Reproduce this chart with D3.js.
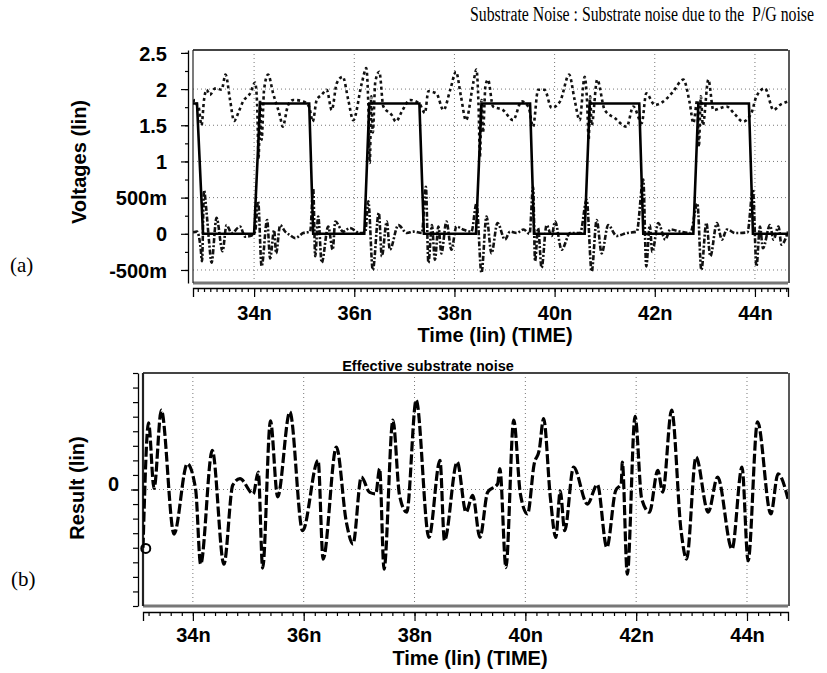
<!DOCTYPE html>
<html><head><meta charset="utf-8">
<script src="https://cdn.jsdelivr.net/npm/d3@7"></script>
<style>body{margin:0;background:#fff}svg{display:block}</style>
</head><body>
<script>
// ---------- DATA ----------
const xTickValues = [34, 36, 38, 40, 42, 44];
const xTickLabels = ["34n", "36n", "38n", "40n", "42n", "44n"];
const aYTickValues = [-0.5, 0, 0.5, 1, 1.5, 2, 2.5];
const aYTickLabels = ["-500m", "0", "500m", "1", "1.5", "2", "2.5"];
const bYTickValues = [0];
const bYTickLabels = ["0"];

// (a) square wave (solid)
const sqTime = [32.78, 32.86, 32.98, 34.0, 34.12, 35.10, 35.18, 36.20, 36.30, 37.30, 37.39, 38.43, 38.54, 39.51, 39.59, 40.60, 40.70, 41.69, 41.77, 42.77, 42.87, 43.88, 43.96, 44.66];
const sqVolt = [1.8, 1.8, 0, 0, 1.8, 1.8, 0, 0, 1.8, 1.8, 0, 0, 1.8, 1.8, 0, 0, 1.8, 1.8, 0, 0, 1.8, 1.8, 0, 0];

// (a) power rail noise (dotted, upper)
const vddTime = [32.78,32.82,32.86,32.89,32.95,33.00,33.05,33.12,33.20,33.25,33.35,33.43,33.52,33.60,33.70,33.78,33.92,34.02,34.06,34.09,34.12,34.15,34.20,34.28,34.38,34.52,34.57,34.68,34.78,34.98,35.10,35.17,35.25,35.35,35.45,35.55,35.65,35.77,35.88,35.98,36.15,36.24,36.28,36.31,36.34,36.37,36.42,36.50,36.58,36.75,36.83,36.95,37.11,37.30,37.41,37.48,37.64,37.78,37.92,38.03,38.13,38.23,38.38,38.44,38.48,38.51,38.54,38.57,38.62,38.67,38.77,38.97,39.17,39.34,39.48,39.57,39.67,39.80,39.94,40.11,40.29,40.40,40.50,40.60,40.65,40.68,40.71,40.74,40.85,41.00,41.20,41.44,41.57,41.74,41.83,42.00,42.13,42.35,42.57,42.70,42.77,42.85,42.88,42.92,42.96,43.07,43.17,43.43,43.60,43.76,43.93,44.03,44.20,44.37,44.50,44.66];
const vddVolt = [1.82,1.85,1.78,1.76,1.50,1.85,1.99,1.92,2.00,2.01,1.99,2.20,1.85,1.56,1.70,1.83,1.94,2.09,1.80,1.05,1.85,1.30,2.00,2.20,1.94,1.62,1.48,1.78,1.85,1.83,1.75,1.55,1.85,1.92,1.99,1.71,2.08,2.17,1.85,1.57,2.08,2.29,1.80,0.98,1.90,1.40,2.10,2.24,1.76,1.64,1.55,1.69,1.85,1.80,1.67,1.97,1.94,1.71,2.00,2.24,1.90,1.57,2.10,2.27,1.80,1.07,1.85,1.40,2.05,2.13,1.76,1.71,1.57,1.83,1.75,1.48,1.99,1.99,1.74,1.83,2.20,1.85,1.57,2.17,1.80,1.30,1.90,1.50,2.13,1.71,1.60,1.48,1.76,1.53,1.94,1.78,1.81,1.95,2.13,1.80,1.53,1.85,1.20,1.90,1.50,2.13,1.71,1.76,1.65,1.55,1.67,1.90,2.01,1.71,1.78,1.83];

// (a) ground rail noise (dash-dot, lower)
const gndTime = [32.78,32.86,32.93,32.96,33.00,33.05,33.10,33.15,33.25,33.37,33.45,33.55,33.72,33.82,33.92,34.02,34.08,34.15,34.26,34.32,34.40,34.44,34.52,34.62,34.72,34.82,34.98,35.12,35.18,35.22,35.28,35.35,35.48,35.57,35.62,35.78,35.91,36.11,36.22,36.28,36.37,36.49,36.55,36.65,36.71,36.88,37.05,37.18,37.35,37.43,37.48,37.55,37.61,37.68,37.74,37.84,37.94,38.04,38.17,38.34,38.44,38.54,38.64,38.74,38.86,39.01,39.11,39.24,39.38,39.50,39.57,39.61,39.67,39.74,39.84,39.94,40.01,40.14,40.31,40.51,40.64,40.74,40.84,40.94,41.07,41.24,41.44,41.64,41.77,41.83,41.90,41.95,42.07,42.21,42.31,42.51,42.71,42.85,42.93,43.03,43.11,43.24,43.34,43.44,43.61,43.85,43.96,44.03,44.10,44.16,44.30,44.37,44.47,44.53,44.66];
const gndVolt = [0.02,0.03,-0.18,-0.38,0.60,0.30,-0.10,-0.40,0.22,-0.24,0.12,0.01,0.10,-0.04,-0.03,0.03,0.45,-0.45,0.19,-0.34,0.05,-0.27,0.12,0.03,-0.02,-0.06,0.01,0.03,0.63,-0.31,0.24,-0.40,0.10,-0.22,0.17,0.03,0.08,0.01,0.02,0.45,-0.50,0.29,-0.31,0.17,-0.22,0.12,0.01,0.03,0.01,0.65,-0.40,0.12,-0.36,0.10,-0.27,0.17,-0.22,0.10,0.06,0.03,0.42,-0.54,0.24,-0.27,0.15,-0.08,0.03,0.01,0.06,0.00,0.65,-0.38,0.08,-0.47,0.12,-0.03,0.17,-0.22,0.01,0.01,0.47,-0.52,0.19,-0.27,0.12,-0.03,0.01,0.03,0.75,-0.45,0.12,-0.25,0.15,-0.08,0.06,0.03,0.01,0.42,-0.50,0.15,-0.31,0.15,-0.08,0.06,0.01,0.02,0.61,-0.45,0.10,-0.20,0.12,-0.08,0.10,-0.15,0.03];

// (b) effective substrate noise (dashed)
const resTime = [33.10,33.20,33.30,33.43,33.66,33.90,34.05,34.14,34.35,34.56,34.72,34.85,35.09,35.18,35.26,35.40,35.53,35.75,35.98,36.26,36.35,36.59,36.77,36.89,37.04,37.19,37.30,37.37,37.45,37.61,37.73,37.86,38.03,38.26,38.46,38.54,38.77,38.93,39.05,39.18,39.32,39.50,39.54,39.65,39.79,39.91,40.04,40.16,40.25,40.33,40.45,40.55,40.63,40.71,40.87,41.12,41.30,41.47,41.63,41.73,41.75,41.84,41.98,42.10,42.24,42.39,42.48,42.64,42.81,42.91,43.08,43.30,43.47,43.73,43.91,44.02,44.19,44.43,44.56,44.74];
const resVal = [-4.0,4.57,0.07,5.45,-3.06,1.77,0.0,-5.13,2.69,-5.13,0.3,0.74,-0.3,1.2,-5.4,4.71,-0.5,5.33,-2.83,2.0,-4.78,2.92,-2.25,-3.75,0.85,-0.2,-0.3,1.43,-5.47,4.76,-0.41,-1.56,6.14,-3.29,2.0,-3.5,1.89,-1.56,-0.4,-3.29,-0.18,0.39,1.43,-5.36,4.76,-0.3,-1.68,1.77,2.69,4.87,-0.5,-3.29,-0.1,-2.83,1.54,-1.0,0.34,-3.98,-0.07,0.39,1.89,-5.82,5.03,-0.64,-1.56,1.31,-0.18,5.45,-2.83,-4.78,2.23,-1.56,0.85,-4.09,1.54,-4.9,4.64,-1.68,1.08,-0.64];
const markerTime = [33.15];
const markerVal = [-4.05];

// ---------- DRAW ----------
const W = 827, H = 673;
const sans = "'Liberation Sans', Arial, sans-serif";
const serif = "'Liberation Serif', 'Times New Roman', serif";
const svg = d3.select("body").append("svg").attr("width", W).attr("height", H);
svg.append("rect").attr("width", W).attr("height", H).attr("fill", "#fff");

svg.append("text").attr("x", 814).attr("y", 21).attr("text-anchor", "end")
  .attr("font-family", serif).attr("font-size", 20).attr("xml:space", "preserve")
  .style("white-space", "pre")
  .attr("textLength", 344).attr("lengthAdjust", "spacingAndGlyphs")
  .text("Substrate Noise : Substrate noise due to the  P/G noise");

function range(a, b, step) { const r = []; for (let v = a; v <= b + 1e-9; v += step) r.push(+v.toFixed(4)); return r; }
function zip(ts, vs) { return ts.map((t, i) => [t, vs[i]]); }

function styleAxis(g, fs) {
  g.selectAll("path.domain").attr("stroke", "#000").attr("stroke-width", 1.3);
  g.selectAll(".tick line").attr("stroke", "#000").attr("stroke-width", 1.2);
  g.selectAll("text").attr("font-family", sans).attr("font-weight", "bold").attr("font-size", fs).attr("fill", "#000");
}

function panel(cfg) {
  const x = d3.scaleLinear().domain(cfg.xDomain).range([cfg.left, cfg.right]);
  const y = d3.scaleLinear().domain(cfg.yDomain).range([cfg.bottom, cfg.top]);
  const g = svg.append("g");
  const id = "clip" + cfg.name;
  svg.append("defs").append("clipPath").attr("id", id).append("rect")
    .attr("x", cfg.left).attr("y", cfg.top).attr("width", cfg.right - cfg.left).attr("height", cfg.bottom - cfg.top);

  // grid
  g.append("g").selectAll("line").data(xTickValues).join("line")
    .attr("x1", d => x(d)).attr("x2", d => x(d)).attr("y1", cfg.top).attr("y2", cfg.bottom)
    .attr("stroke", "#777").attr("stroke-width", 1).attr("stroke-dasharray", "1,3");
  g.append("g").selectAll("line").data(cfg.hGrid).join("line")
    .attr("x1", cfg.left).attr("x2", cfg.right).attr("y1", d => y(d)).attr("y2", d => y(d))
    .attr("stroke", "#777").attr("stroke-width", 1).attr("stroke-dasharray", "1,3");

  // frame
  g.append("line").attr("x1", cfg.left).attr("x2", cfg.right).attr("y1", cfg.top).attr("y2", cfg.top).attr("stroke", "#444").attr("stroke-width", 1.8);
  g.append("line").attr("x1", cfg.left).attr("x2", cfg.right).attr("y1", cfg.bottom).attr("y2", cfg.bottom).attr("stroke", "#777").attr("stroke-width", 3);
  g.append("line").attr("x1", cfg.left).attr("x2", cfg.left).attr("y1", cfg.top).attr("y2", cfg.bottom).attr("stroke", "#222").attr("stroke-width", cfg.leftW);
  g.append("line").attr("x1", cfg.right + 1).attr("x2", cfg.right + 1).attr("y1", cfg.top).attr("y2", cfg.bottom).attr("stroke", "#222").attr("stroke-width", 1.5);

  // y axis
  const yAxisX = cfg.left - 5;
  const gyMinor = g.append("g").attr("transform", `translate(${yAxisX},0)`)
    .call(d3.axisLeft(y).tickValues(cfg.yMinor).tickSize(cfg.yMinorSize).tickSizeOuter(0).tickFormat(""));
  styleAxis(gyMinor, 20);
  const gyMajor = g.append("g").attr("transform", `translate(${yAxisX},0)`)
    .call(d3.axisLeft(y).tickValues(cfg.yMajor).tickSize(7).tickSizeOuter(0).tickPadding(cfg.yPad)
      .tickFormat((d, i) => cfg.yLabels[i]));
  gyMajor.select("path.domain").remove();
  styleAxis(gyMajor, 20);
  gyMajor.selectAll("text").attr("dy", cfg.yDy);

  // x axis
  const gxMinor = g.append("g").attr("transform", `translate(0,${cfg.xAxisY})`)
    .call(d3.axisBottom(x).tickValues(cfg.xMinor).tickSize(4).tickSizeOuter(9).tickFormat(""));
  styleAxis(gxMinor, 20);
  const gxMajor = g.append("g").attr("transform", `translate(0,${cfg.xAxisY})`)
    .call(d3.axisBottom(x).tickValues(xTickValues).tickSize(9).tickSizeOuter(0).tickPadding(cfg.xPad)
      .tickFormat((d, i) => xTickLabels[i]));
  gxMajor.select("path.domain").remove();
  styleAxis(gxMajor, 20);

  // titles
  svg.append("text").attr("x", cfg.xTitleX).attr("y", cfg.xTitleY).attr("text-anchor", "middle")
    .attr("font-family", sans).attr("font-weight", "bold").attr("font-size", 20).text("Time (lin) (TIME)");
  svg.append("text").attr("transform", `translate(${cfg.yTitleX},${cfg.yTitleY}) rotate(-90)`)
    .attr("text-anchor", "middle").attr("dy", "0.36em")
    .attr("font-family", sans).attr("font-weight", "bold").attr("font-size", 20).text(cfg.yTitle);
  svg.append("text").attr("x", cfg.tagX).attr("y", cfg.tagY)
    .attr("font-family", serif).attr("font-size", 21).text(cfg.tag);

  const plot = svg.append("g").attr("clip-path", `url(#${id})`);
  return { x, y, plot };
}

// Panel (a)
const A = panel({
  name: "A", xDomain: [32.78, 44.66], yDomain: [-0.68, 2.54],
  left: 193, right: 788, top: 50, bottom: 283, leftW: 1.2,
  hGrid: [-0.5, 0.5, 1, 1.5, 2],
  yMinor: range(-0.5, 2.5, 0.25), yMinorSize: 3, yMajor: aYTickValues, yLabels: aYTickLabels, yPad: 14, yDy: "0.36em",
  xMinor: range(32.875, 44.625, 0.125), xAxisY: 288, xPad: 9,
  xTitleX: 495, xTitleY: 342, yTitle: "Voltages (lin)", yTitleX: 79, yTitleY: 162,
  tag: "(a)", tagX: 10, tagY: 272
});
const lineA = d3.line().x(d => A.x(d[0])).y(d => A.y(d[1]));
A.plot.append("path").datum(zip(vddTime, vddVolt))
  .attr("d", lineA.curve(d3.curveMonotoneX)).attr("fill", "none").attr("stroke", "#111")
  .attr("stroke-width", 2.6).attr("stroke-dasharray", "3,3");
A.plot.append("path").datum(zip(gndTime, gndVolt))
  .attr("d", lineA.curve(d3.curveMonotoneX)).attr("fill", "none").attr("stroke", "#111")
  .attr("stroke-width", 2.6).attr("stroke-dasharray", "5,2,2,2");
A.plot.append("path").datum(zip(sqTime, sqVolt))
  .attr("d", lineA.curve(d3.curveLinear)).attr("fill", "none").attr("stroke", "#000")
  .attr("stroke-width", 2.6);

// Panel (b)
const B = panel({
  name: "B", xDomain: [33.1, 44.74], yDomain: [-8, 8],
  left: 143, right: 788, top: 373, bottom: 606, leftW: 2.2,
  hGrid: [0],
  yMinor: range(-8, 8, 1), yMinorSize: 5, yMajor: bYTickValues, yLabels: bYTickLabels, yPad: 12, yDy: "0.05em",
  xMinor: range(33.2, 44.6, 0.2), xAxisY: 612, xPad: 7,
  xTitleX: 470, xTitleY: 665, yTitle: "Result (lin)", yTitleX: 77, yTitleY: 488,
  tag: "(b)", tagX: 11, tagY: 586
});
svg.append("text").attr("x", 428).attr("y", 371).attr("text-anchor", "middle")
  .attr("font-family", sans).attr("font-weight", "bold").attr("font-size", 14.5).text("Effective substrate noise");
const lineB = d3.line().x(d => B.x(d[0])).y(d => B.y(d[1])).curve(d3.curveMonotoneX);
B.plot.append("path").datum(zip(resTime, resVal))
  .attr("d", lineB).attr("fill", "none").attr("stroke", "#000")
  .attr("stroke-width", 3.2).attr("stroke-dasharray", "10,3");
svg.append("g").selectAll("circle").data(zip(markerTime, markerVal)).join("circle")
  .attr("cx", d => B.x(d[0])).attr("cy", d => B.y(d[1])).attr("r", 4.5)
  .attr("fill", "none").attr("stroke", "#000").attr("stroke-width", 2);
</script>
</body></html>
